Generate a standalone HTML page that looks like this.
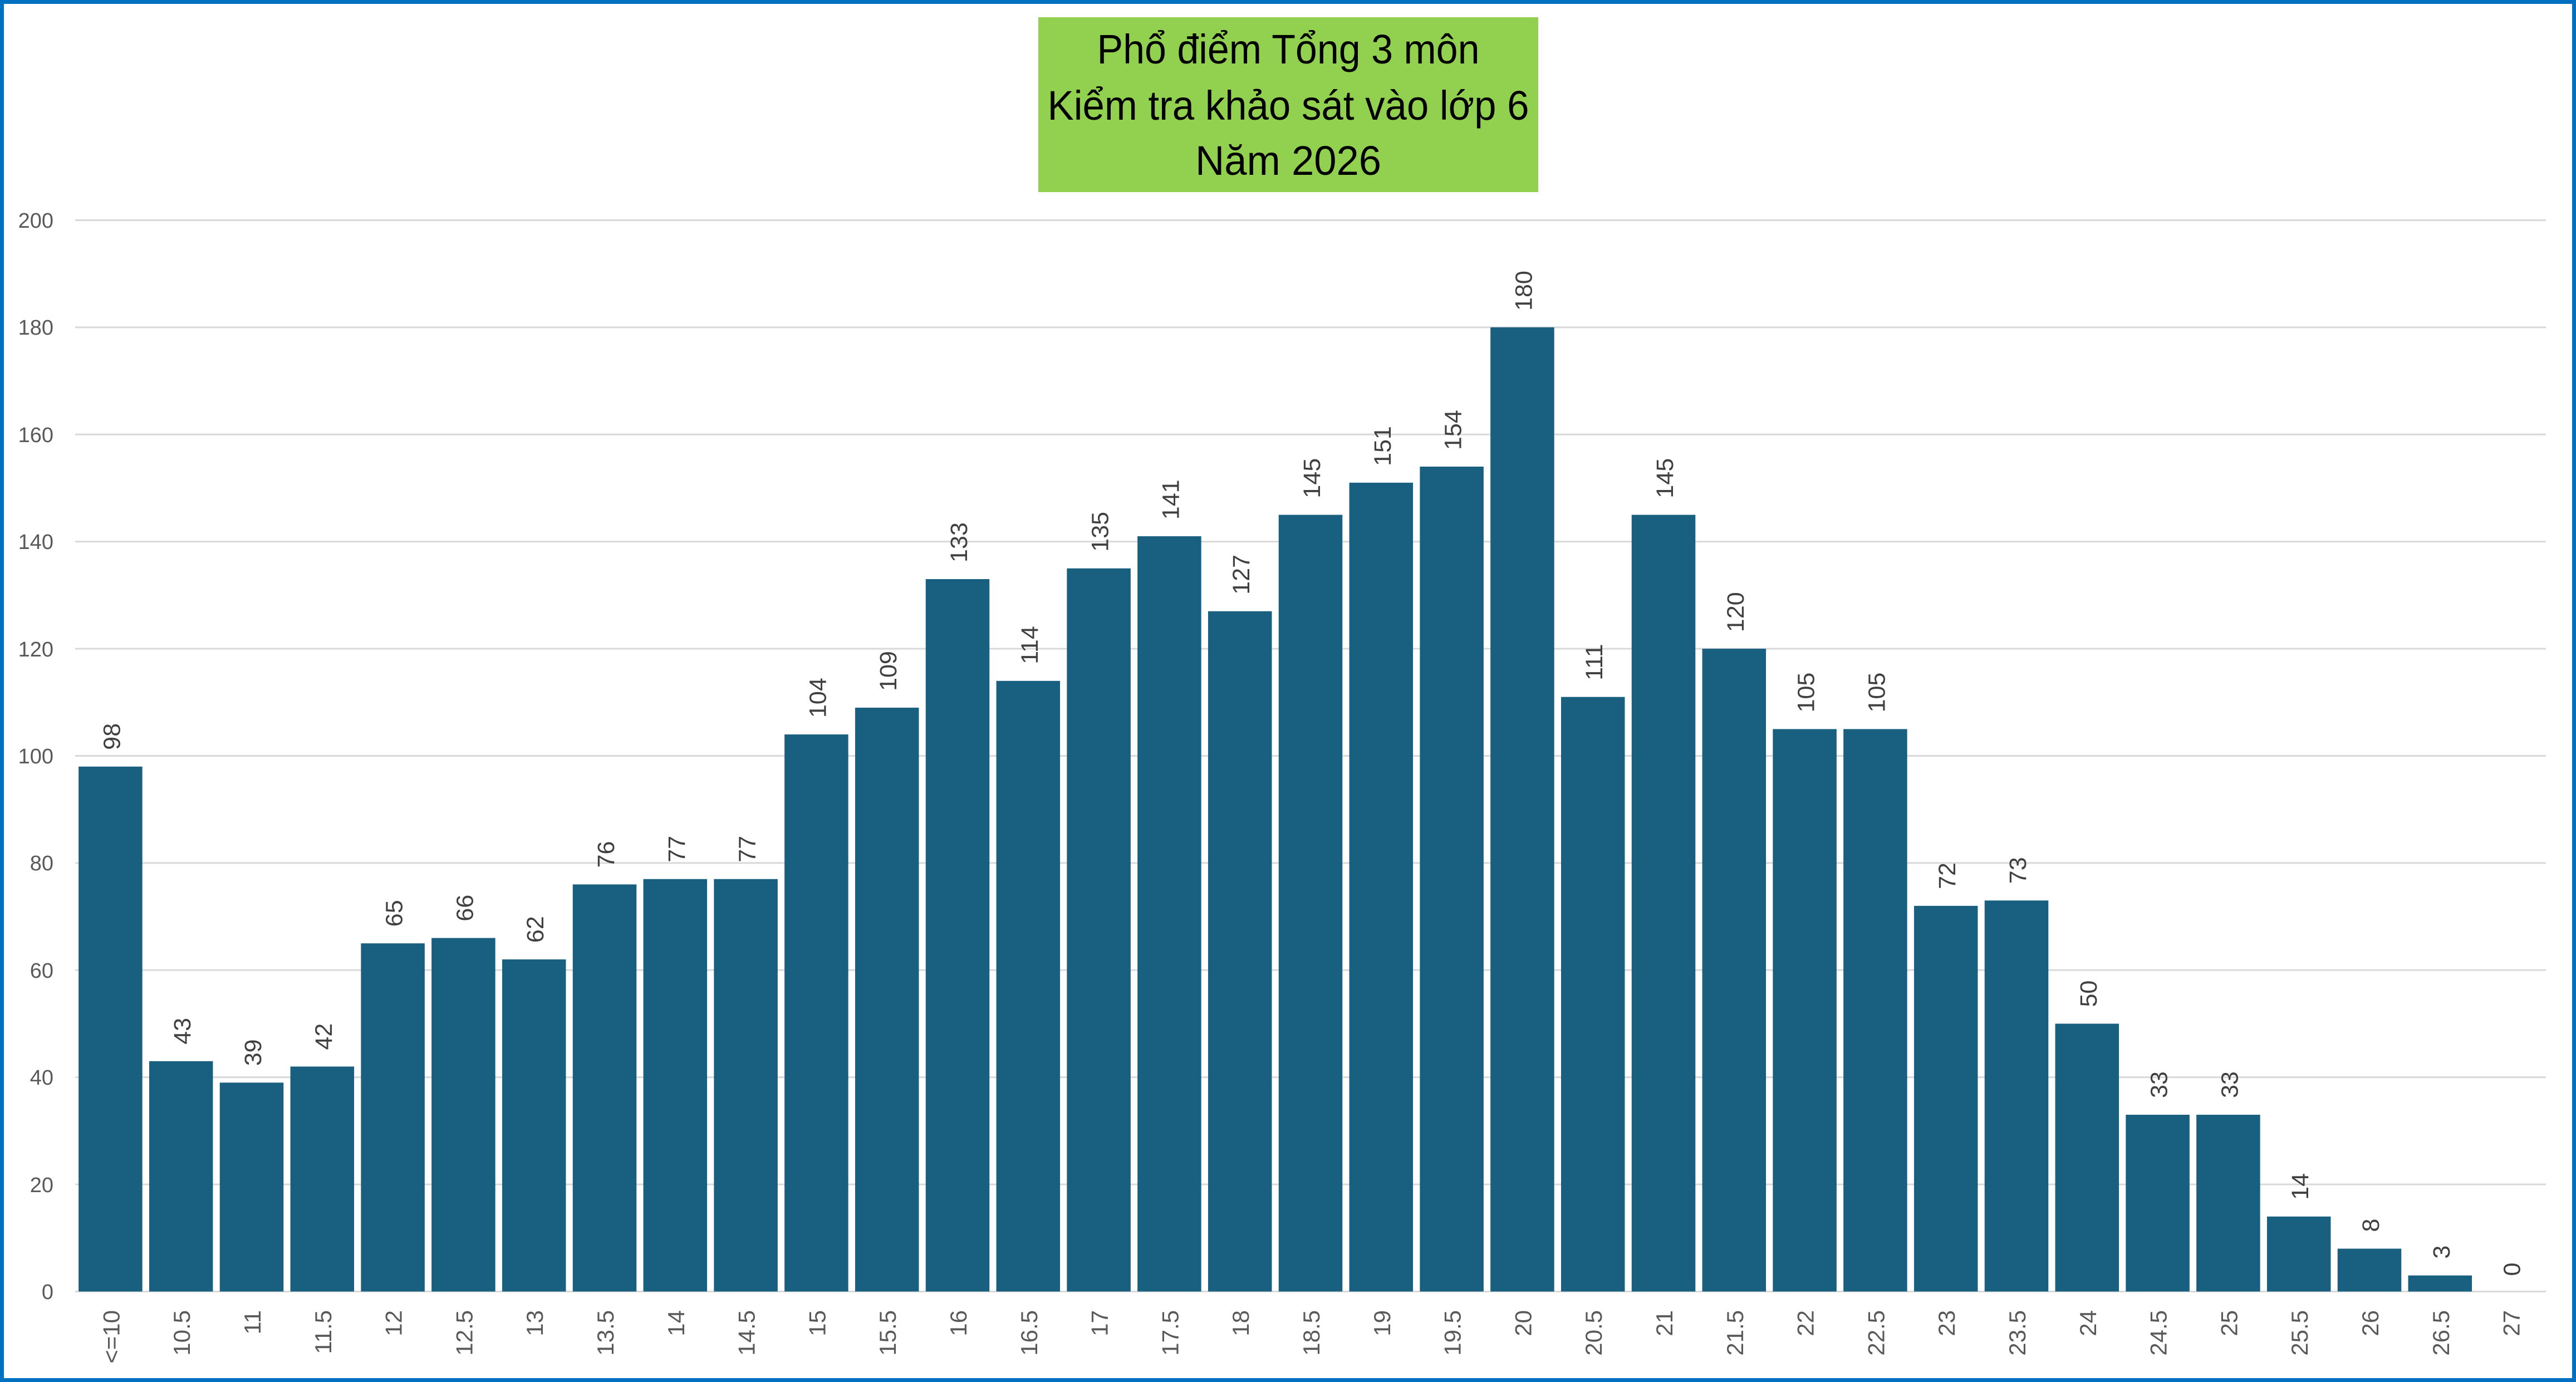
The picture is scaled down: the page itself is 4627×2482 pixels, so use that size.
<!DOCTYPE html>
<html><head><meta charset="utf-8"><style>
html,body{margin:0;padding:0;background:#fff;}
svg{display:block;}
</style></head><body>
<svg width="4627" height="2482" viewBox="0 0 4627 2482" xmlns="http://www.w3.org/2000/svg" font-family="Liberation Sans, sans-serif">
<rect x="3.5" y="3.5" width="4620" height="2475" fill="#fff" stroke="#0070C0" stroke-width="7"/>
<g stroke="#D9D9D9" stroke-width="3">
<line x1="135" x2="4573" y1="2319.5" y2="2319.5"/>
<line x1="135" x2="4573" y1="2127.1" y2="2127.1"/>
<line x1="135" x2="4573" y1="1934.7" y2="1934.7"/>
<line x1="135" x2="4573" y1="1742.3" y2="1742.3"/>
<line x1="135" x2="4573" y1="1549.9" y2="1549.9"/>
<line x1="135" x2="4573" y1="1357.5" y2="1357.5"/>
<line x1="135" x2="4573" y1="1165.1" y2="1165.1"/>
<line x1="135" x2="4573" y1="972.7" y2="972.7"/>
<line x1="135" x2="4573" y1="780.3" y2="780.3"/>
<line x1="135" x2="4573" y1="587.9" y2="587.9"/>
<line x1="135" x2="4573" y1="395.5" y2="395.5"/>
</g>
<g font-size="38" fill="#595959" text-anchor="end">
<text x="96" y="2333">0</text>
<text x="96" y="2141">20</text>
<text x="96" y="1948">40</text>
<text x="96" y="1756">60</text>
<text x="96" y="1563">80</text>
<text x="96" y="1371">100</text>
<text x="96" y="1179">120</text>
<text x="96" y="986">140</text>
<text x="96" y="794">160</text>
<text x="96" y="601">180</text>
<text x="96" y="409">200</text>
</g>
<g fill="#185F80" transform="translate(0,2319.5) scale(1,-9.62)">
<rect x="141.15" y="0" width="114.5" height="98"/>
<rect x="267.95" y="0" width="114.5" height="43"/>
<rect x="394.75" y="0" width="114.5" height="39"/>
<rect x="521.55" y="0" width="114.5" height="42"/>
<rect x="648.35" y="0" width="114.5" height="65"/>
<rect x="775.15" y="0" width="114.5" height="66"/>
<rect x="901.95" y="0" width="114.5" height="62"/>
<rect x="1028.75" y="0" width="114.5" height="76"/>
<rect x="1155.55" y="0" width="114.5" height="77"/>
<rect x="1282.35" y="0" width="114.5" height="77"/>
<rect x="1409.15" y="0" width="114.5" height="104"/>
<rect x="1535.95" y="0" width="114.5" height="109"/>
<rect x="1662.75" y="0" width="114.5" height="133"/>
<rect x="1789.55" y="0" width="114.5" height="114"/>
<rect x="1916.35" y="0" width="114.5" height="135"/>
<rect x="2043.15" y="0" width="114.5" height="141"/>
<rect x="2169.95" y="0" width="114.5" height="127"/>
<rect x="2296.75" y="0" width="114.5" height="145"/>
<rect x="2423.55" y="0" width="114.5" height="151"/>
<rect x="2550.35" y="0" width="114.5" height="154"/>
<rect x="2677.15" y="0" width="114.5" height="180"/>
<rect x="2803.95" y="0" width="114.5" height="111"/>
<rect x="2930.75" y="0" width="114.5" height="145"/>
<rect x="3057.55" y="0" width="114.5" height="120"/>
<rect x="3184.35" y="0" width="114.5" height="105"/>
<rect x="3311.15" y="0" width="114.5" height="105"/>
<rect x="3437.95" y="0" width="114.5" height="72"/>
<rect x="3564.75" y="0" width="114.5" height="73"/>
<rect x="3691.55" y="0" width="114.5" height="50"/>
<rect x="3818.35" y="0" width="114.5" height="33"/>
<rect x="3945.15" y="0" width="114.5" height="33"/>
<rect x="4071.95" y="0" width="114.5" height="14"/>
<rect x="4198.75" y="0" width="114.5" height="8"/>
<rect x="4325.55" y="0" width="114.5" height="3"/>
</g>
<g font-size="43" fill="#404040">
<text transform="translate(215.4,1346.7) rotate(-90)">98</text>
<text transform="translate(342.2,1875.8) rotate(-90)">43</text>
<text transform="translate(469,1914.3) rotate(-90)">39</text>
<text transform="translate(595.8,1885.5) rotate(-90)">42</text>
<text transform="translate(722.6,1664.2) rotate(-90)">65</text>
<text transform="translate(849.4,1654.6) rotate(-90)">66</text>
<text transform="translate(976.2,1693.1) rotate(-90)">62</text>
<text transform="translate(1103,1558.4) rotate(-90)">76</text>
<text transform="translate(1229.8,1548.8) rotate(-90)">77</text>
<text transform="translate(1356.6,1548.8) rotate(-90)">77</text>
<text transform="translate(1483.4,1289) rotate(-90)">104</text>
<text transform="translate(1610.2,1240.9) rotate(-90)">109</text>
<text transform="translate(1737,1010) rotate(-90)">133</text>
<text transform="translate(1863.8,1192.8) rotate(-90)">114</text>
<text transform="translate(1990.6,990.8) rotate(-90)">135</text>
<text transform="translate(2117.4,933.1) rotate(-90)">141</text>
<text transform="translate(2244.2,1067.8) rotate(-90)">127</text>
<text transform="translate(2371,894.6) rotate(-90)">145</text>
<text transform="translate(2497.8,836.9) rotate(-90)">151</text>
<text transform="translate(2624.6,808) rotate(-90)">154</text>
<text transform="translate(2751.4,557.9) rotate(-90)">180</text>
<text transform="translate(2878.2,1221.7) rotate(-90)">111</text>
<text transform="translate(3005,894.6) rotate(-90)">145</text>
<text transform="translate(3131.8,1135.1) rotate(-90)">120</text>
<text transform="translate(3258.6,1279.4) rotate(-90)">105</text>
<text transform="translate(3385.4,1279.4) rotate(-90)">105</text>
<text transform="translate(3512.2,1596.9) rotate(-90)">72</text>
<text transform="translate(3639,1587.2) rotate(-90)">73</text>
<text transform="translate(3765.8,1808.5) rotate(-90)">50</text>
<text transform="translate(3892.6,1972) rotate(-90)">33</text>
<text transform="translate(4019.4,1972) rotate(-90)">33</text>
<text transform="translate(4146.2,2154.8) rotate(-90)">14</text>
<text transform="translate(4273,2212.5) rotate(-90)">8</text>
<text transform="translate(4399.8,2260.6) rotate(-90)">3</text>
<text transform="translate(4526.6,2291.5) rotate(-90)">0</text>
</g>
<g font-size="42" fill="#595959" text-anchor="end">
<text transform="translate(214.4,2353) rotate(-90)">&lt;=10</text>
<text transform="translate(341.2,2353) rotate(-90)">10.5</text>
<text transform="translate(468,2353) rotate(-90)">11</text>
<text transform="translate(594.8,2353) rotate(-90)">11.5</text>
<text transform="translate(721.6,2353) rotate(-90)">12</text>
<text transform="translate(848.4,2353) rotate(-90)">12.5</text>
<text transform="translate(975.2,2353) rotate(-90)">13</text>
<text transform="translate(1102,2353) rotate(-90)">13.5</text>
<text transform="translate(1228.8,2353) rotate(-90)">14</text>
<text transform="translate(1355.6,2353) rotate(-90)">14.5</text>
<text transform="translate(1482.4,2353) rotate(-90)">15</text>
<text transform="translate(1609.2,2353) rotate(-90)">15.5</text>
<text transform="translate(1736,2353) rotate(-90)">16</text>
<text transform="translate(1862.8,2353) rotate(-90)">16.5</text>
<text transform="translate(1989.6,2353) rotate(-90)">17</text>
<text transform="translate(2116.4,2353) rotate(-90)">17.5</text>
<text transform="translate(2243.2,2353) rotate(-90)">18</text>
<text transform="translate(2370,2353) rotate(-90)">18.5</text>
<text transform="translate(2496.8,2353) rotate(-90)">19</text>
<text transform="translate(2623.6,2353) rotate(-90)">19.5</text>
<text transform="translate(2750.4,2353) rotate(-90)">20</text>
<text transform="translate(2877.2,2353) rotate(-90)">20.5</text>
<text transform="translate(3004,2353) rotate(-90)">21</text>
<text transform="translate(3130.8,2353) rotate(-90)">21.5</text>
<text transform="translate(3257.6,2353) rotate(-90)">22</text>
<text transform="translate(3384.4,2353) rotate(-90)">22.5</text>
<text transform="translate(3511.2,2353) rotate(-90)">23</text>
<text transform="translate(3638,2353) rotate(-90)">23.5</text>
<text transform="translate(3764.8,2353) rotate(-90)">24</text>
<text transform="translate(3891.6,2353) rotate(-90)">24.5</text>
<text transform="translate(4018.4,2353) rotate(-90)">25</text>
<text transform="translate(4145.2,2353) rotate(-90)">25.5</text>
<text transform="translate(4272,2353) rotate(-90)">26</text>
<text transform="translate(4398.8,2353) rotate(-90)">26.5</text>
<text transform="translate(4525.6,2353) rotate(-90)">27</text>
</g>
<rect x="1865" y="31" width="898" height="314" fill="#92D050"/>
<g font-size="74" fill="#000" text-anchor="middle">
<text x="2314" y="114" textLength="687" lengthAdjust="spacingAndGlyphs">Phổ điểm Tổng 3 môn</text>
<text x="2314" y="215" textLength="865" lengthAdjust="spacingAndGlyphs">Kiểm tra khảo sát vào lớp 6</text>
<text x="2314" y="314" textLength="334" lengthAdjust="spacingAndGlyphs">Năm 2026</text>
</g>
</svg>
</body></html>
